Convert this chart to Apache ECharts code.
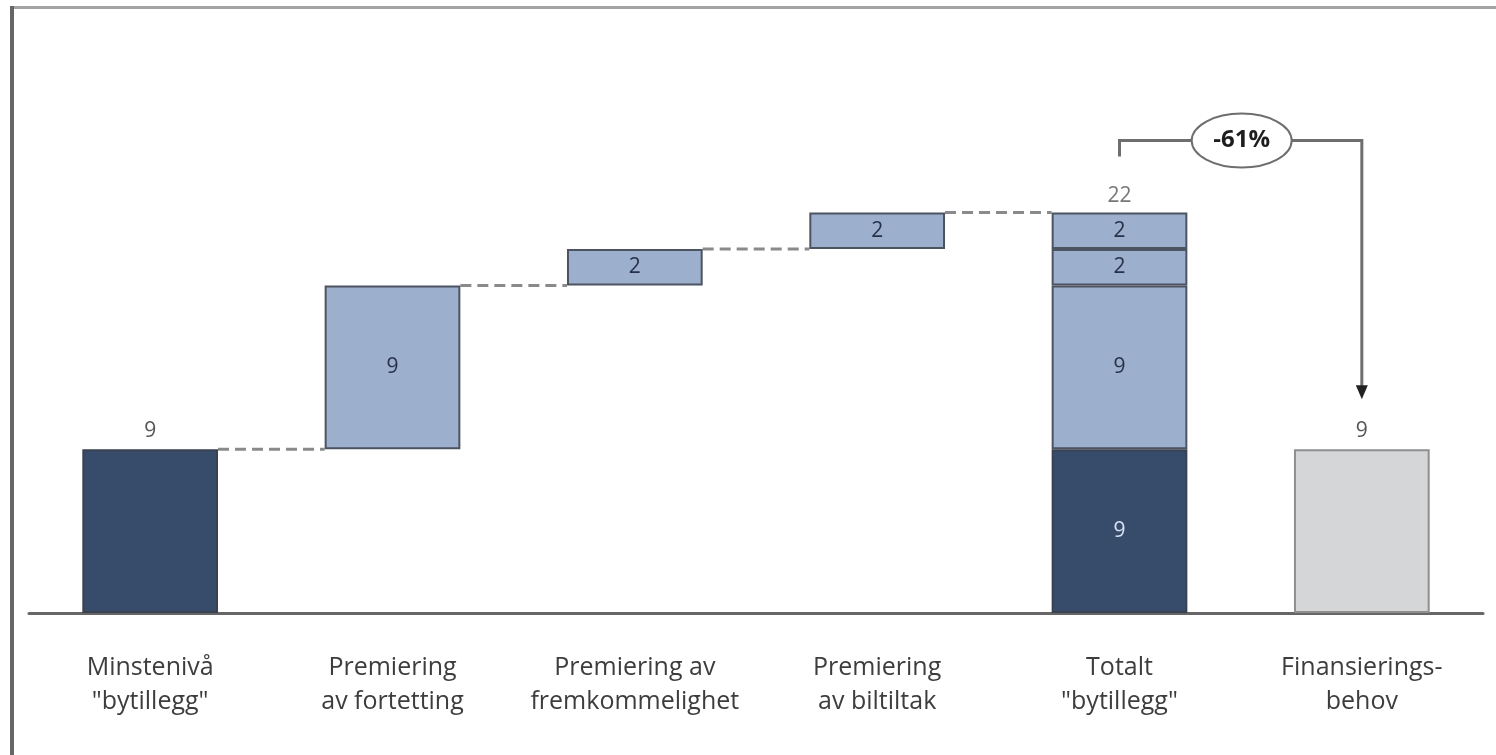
<!DOCTYPE html>
<html>
<head>
<meta charset="utf-8">
<title>Bytillegg</title>
<script src="https://cdn.jsdelivr.net/npm/echarts@6/dist/echarts.min.js"></script>
<style>
  html, body { margin: 0; padding: 0; background: #ffffff; }
  #chart { width: 1496px; height: 755px; }
</style>
</head>
<body>
<div id="chart"></div>
<script>
// Categories along the x axis
const categories = [
  'Minstenivå\n"bytillegg"',
  'Premiering\nav fortetting',
  'Premiering av\nfremkommelighet',
  'Premiering\nav biltiltak',
  'Totalt\n"bytillegg"',
  'Finansierings-\nbehov'
];
// Minimum level, the three premium steps, and the financing need
const minimumLevel = 9;
const premiumSteps = [9, 2, 2];
const financingNeed = 9;
const changeText = '-61%';

// Derived running totals
const cumulative = [minimumLevel];
premiumSteps.forEach(v => cumulative.push(cumulative[cumulative.length - 1] + v));
const total = cumulative[cumulative.length - 1];
const TOTAL_IDX = 4, NEED_IDX = 5;

const DARK = '#374b6a', LIGHT = '#9cafcc', GREY = '#d5d6d8';
const BORDER = '#4c5361';
const FONT = '"Open Sans"';
const BAR_RATIO = 0.56;
const VALUE_SIZE = 21;

// invisible base that lifts each premium step
const baseData = categories.map((_, i) => (i >= 1 && i <= 3) ? cumulative[i - 1] : '-');

function stepSeries(name, stepIdx, value) {
  const data = categories.map((_, i) => (i === stepIdx + 1 || i === TOTAL_IDX) ? value : '-');
  return {
    name, type: 'bar', stack: 'w', barWidth: (BAR_RATIO * 100) + '%',
    itemStyle: { color: LIGHT, borderColor: BORDER, borderWidth: 2 },
    label: { show: true, position: 'inside', fontFamily: FONT, fontSize: VALUE_SIZE, color: '#27324a' },
    data
  };
}

const minData = categories.map((_, i) => {
  if (i === 0) return { value: minimumLevel, label: { position: 'top', distance: 8, color: '#555' } };
  if (i === TOTAL_IDX) return { value: minimumLevel, label: { position: 'inside', color: '#d4e2f3' } };
  return '-';
});

const needData = categories.map((_, i) => i === NEED_IDX ? financingNeed : '-');
const totalLabelData = categories.map((_, i) => i === TOTAL_IDX ? total : '-');

// connector items: [from category, level]
const connectorData = cumulative.map((lvl, i) => [i, lvl]);

const chart = echarts.init(document.getElementById('chart'), null, { renderer: 'canvas' });

chart.setOption({
  animation: false,
  backgroundColor: '#ffffff',
  grid: { left: 29, right: 13, top: 67, bottom: 142 },
  xAxis: {
    type: 'category',
    data: categories,
    axisLine: { lineStyle: { color: '#666666', width: 3 } },
    axisTick: { show: false },
    axisLabel: {
      interval: 0, margin: 38, fontFamily: FONT, fontSize: 25, lineHeight: 34, color: '#3d3d3d'
    }
  },
  yAxis: { type: 'value', min: 0, max: 30, show: false, splitLine: { show: false } },
  graphic: [
    { type: 'rect', left: 10, top: 6, shape: { width: 1486, height: 3 }, style: { fill: '#a3a3a3' }, silent: true },
    { type: 'rect', left: 10, top: 6, shape: { width: 4, height: 749 }, style: { fill: '#666666' }, silent: true }
  ],
  series: [
    {
      name: 'Grunnlag', type: 'bar', stack: 'w', barWidth: (BAR_RATIO * 100) + '%', silent: true,
      itemStyle: { color: 'rgba(0,0,0,0)', borderWidth: 0 },
      data: baseData
    },
    {
      name: 'Minstenivå', type: 'bar', stack: 'w', barWidth: (BAR_RATIO * 100) + '%',
      itemStyle: { color: DARK, borderColor: '#3a4150', borderWidth: 2 },
      label: { show: true, fontFamily: FONT, fontSize: VALUE_SIZE },
      data: minData
    },
    stepSeries('Fortetting', 0, premiumSteps[0]),
    stepSeries('Fremkommelighet', 1, premiumSteps[1]),
    stepSeries('Biltiltak', 2, premiumSteps[2]),
    {
      name: 'Finansieringsbehov', type: 'bar', stack: 'w', barWidth: (BAR_RATIO * 100) + '%',
      itemStyle: { color: GREY, borderColor: '#8f8f8f', borderWidth: 2 },
      label: { show: true, position: 'top', distance: 8, fontFamily: FONT, fontSize: VALUE_SIZE, color: '#555' },
      data: needData
    },
    {
      name: 'Totalt', type: 'scatter', symbolSize: 0, silent: true,
      label: { show: true, position: 'top', distance: 6, fontFamily: FONT, fontSize: VALUE_SIZE, color: '#555' },
      data: totalLabelData
    },
    {
      // dashed connectors between consecutive bars
      name: 'Forbindelser', type: 'custom', silent: true, z: 1,
      data: connectorData,
      renderItem: function (params, api) {
        const i = api.value(0), lvl = api.value(1);
        const half = api.size([1, 0])[0] * BAR_RATIO / 2;
        const p1 = api.coord([i, lvl]);
        const p2 = api.coord([i + 1, lvl]);
        return {
          type: 'line',
          shape: { x1: p1[0] + half, y1: p1[1], x2: p2[0] - half, y2: p2[1] },
          style: { stroke: '#8a8a8a', lineWidth: 3, lineDash: [11, 6] }
        };
      }
    },
    {
      // bracket from total to financing need, with the change in the middle
      name: 'Endring', type: 'custom', silent: true, z: 5,
      data: [[TOTAL_IDX, total, NEED_IDX, financingNeed]],
      renderItem: function (params, api) {
        const a = api.coord([api.value(0), api.value(1)]);
        const b = api.coord([api.value(2), api.value(3)]);
        const yTop = a[1] - 72;
        const yTick = a[1] - 56;
        const yTip = b[1] - 50;
        const cx = (a[0] + b[0]) / 2 + 1;
        const lineStyle = { stroke: '#6e6e6e', lineWidth: 3, fill: null };
        return {
          type: 'group',
          children: [
            { type: 'polyline', shape: { points: [[a[0], yTick], [a[0], yTop], [b[0], yTop], [b[0], yTip - 12]] }, style: lineStyle },
            { type: 'polygon', shape: { points: [[b[0] - 6, yTip - 14], [b[0] + 6, yTip - 14], [b[0], yTip]] }, style: { fill: '#222' } },
            { type: 'ellipse', shape: { cx: cx, cy: yTop, rx: 50, ry: 27 }, style: { fill: '#ffffff', stroke: '#6e6e6e', lineWidth: 2 } },
            { type: 'text', style: { text: changeText, x: cx, y: yTop, align: 'center', verticalAlign: 'middle', font: 'bold 24px ' + FONT, fill: '#1e1e1e' } }
          ]
        };
      }
    }
  ]
});
</script>
</body>
</html>
